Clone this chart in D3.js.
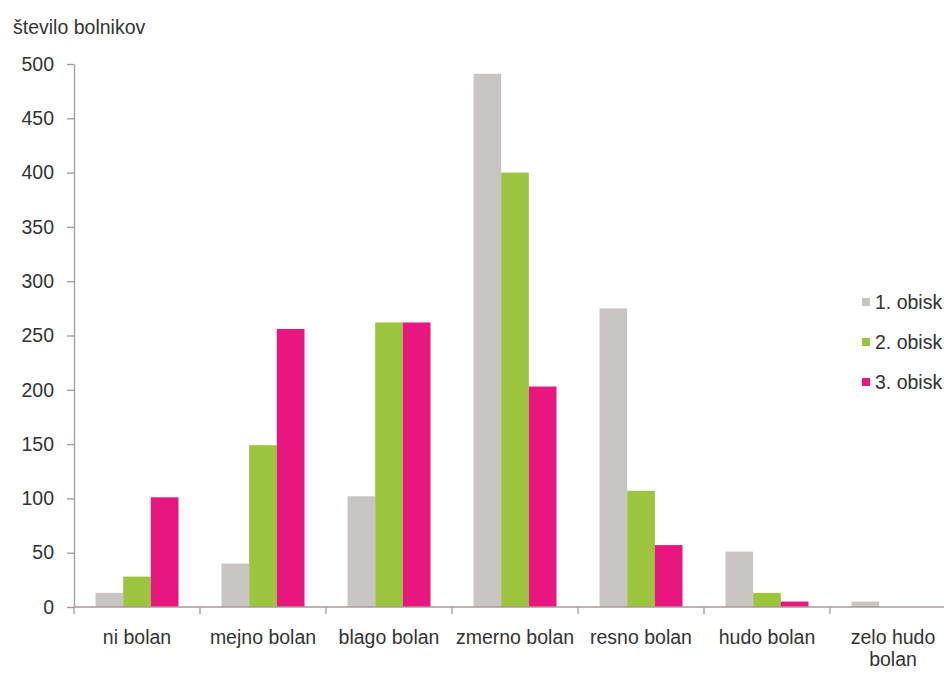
<!DOCTYPE html>
<html>
<head>
<meta charset="utf-8">
<script src="https://cdn.jsdelivr.net/npm/d3@7"></script>
<style>
  html, body { margin: 0; padding: 0; background: #fff; overflow: hidden; }
  svg { display: block; font-family: "Liberation Sans", Arial, sans-serif; }
</style>
</head>
<body>
<svg id="chart" width="944" height="673"></svg>
<script>
// Pain categories and number of patients per visit
const categories = ["ni bolan", "mejno bolan", "blago bolan", "zmerno bolan", "resno bolan", "hudo bolan", "zelo hudo bolan"];
const seriesNames = ["1. obisk", "2. obisk", "3. obisk"];
const visit1 = [13, 40, 102, 491, 275, 51, 5];
const visit2 = [28, 149, 262, 400, 107, 13, 0];
const visit3 = [101, 256, 262, 203, 57, 5, 0];
const yTicks = [0, 50, 100, 150, 200, 250, 300, 350, 400, 450, 500];
const yTitle = "število bolnikov";

const seriesValues = [visit1, visit2, visit3];
const colors = ["#c9c5c5", "#9bc53d", "#e8177f"];
const axisColor = "#a89898";
const textColor = "#333333";
const fontSize = 19.5;

const svg = d3.select("#chart");

const plotLeft = 74, plotBottom = 607, plotTop = 64, step = 126;

const x = d3.scaleBand()
  .domain(categories)
  .range([plotLeft, plotLeft + step * categories.length])
  .padding(0);

const xSub = d3.scaleBand()
  .domain(seriesNames)
  .range([21.5, step - 21.5])
  .padding(0);

const y = d3.scaleLinear().domain([0, 500]).range([plotBottom, plotTop]);

// bars
const rows = categories.map((c, i) => ({ cat: c, vals: seriesNames.map((s, k) => ({ s, v: seriesValues[k][i], k })) }));

const groups = svg.append("g").selectAll("g")
  .data(rows).join("g")
  .attr("transform", d => `translate(${x(d.cat)},0)`);

groups.selectAll("rect")
  .data(d => d.vals).join("rect")
  .attr("x", d => xSub(d.s))
  .attr("width", xSub.bandwidth())
  .attr("y", d => y(d.v))
  .attr("height", d => y(0) - y(d.v))
  .attr("fill", d => colors[d.k]);

// y axis
const yAxis = svg.append("g")
  .attr("transform", `translate(${plotLeft},0)`)
  .call(d3.axisLeft(y).tickValues(yTicks).tickSize(7).tickPadding(13).tickSizeOuter(0));
yAxis.select(".domain").attr("stroke", axisColor).attr("stroke-width", 1.3);
yAxis.selectAll(".tick line").attr("stroke", axisColor).attr("stroke-width", 1.3);
yAxis.selectAll(".tick text")
  .attr("fill", textColor)
  .style("font-size", fontSize + "px")
  .style("font-family", "'Liberation Sans', Arial, sans-serif");

// x axis: baseline, boundary ticks and category labels
const xAxis = svg.append("g").attr("transform", `translate(0,${plotBottom})`);
xAxis.append("line")
  .attr("x1", plotLeft).attr("x2", x.range()[1])
  .attr("stroke", axisColor).attr("stroke-width", 1.3);

const boundaries = categories.map(c => x(c)).concat([x.range()[1]]);
xAxis.selectAll("line.bound")
  .data(boundaries).join("line")
  .attr("class", "bound")
  .attr("x1", d => d).attr("x2", d => d)
  .attr("y1", 0).attr("y2", 7)
  .attr("stroke", axisColor).attr("stroke-width", 1.3);

const labels = xAxis.selectAll("text.cat")
  .data(categories).join("text")
  .attr("class", "cat")
  .attr("x", d => x(d) + x.bandwidth() / 2)
  .attr("y", 37)
  .attr("text-anchor", "middle")
  .attr("fill", textColor)
  .style("font-size", fontSize + "px")
  .text(d => d);

// wrap labels that are wider than their band
labels.each(function(d) {
  const t = d3.select(this);
  const maxW = x.bandwidth() - 4;
  if (this.getComputedTextLength() <= maxW) return;
  const words = d.split(" ");
  t.text(null);
  let line = [];
  let tspan = t.append("tspan").attr("x", x(d) + x.bandwidth() / 2).attr("dy", 0);
  words.forEach(w => {
    line.push(w);
    tspan.text(line.join(" "));
    if (tspan.node().getComputedTextLength() > maxW && line.length > 1) {
      line.pop();
      tspan.text(line.join(" "));
      line = [w];
      tspan = t.append("tspan").attr("x", x(d) + x.bandwidth() / 2).attr("dy", 22).text(w);
    }
  });
});

// axis title
svg.append("text")
  .attr("x", 13).attr("y", 34)
  .attr("fill", textColor)
  .style("font-size", fontSize + "px")
  .text(yTitle);

// legend
const legend = svg.append("g").attr("transform", "translate(862,302)");
const items = legend.selectAll("g").data(seriesNames).join("g")
  .attr("transform", (d, i) => `translate(0,${i * 40})`);
items.append("rect")
  .attr("x", 0).attr("y", -4).attr("width", 8).attr("height", 8)
  .attr("fill", (d, i) => colors[i]);
items.append("text")
  .attr("x", 13).attr("y", 0).attr("dy", "0.35em")
  .attr("fill", textColor)
  .style("font-size", fontSize + "px")
  .text(d => d);
</script>
</body>
</html>
